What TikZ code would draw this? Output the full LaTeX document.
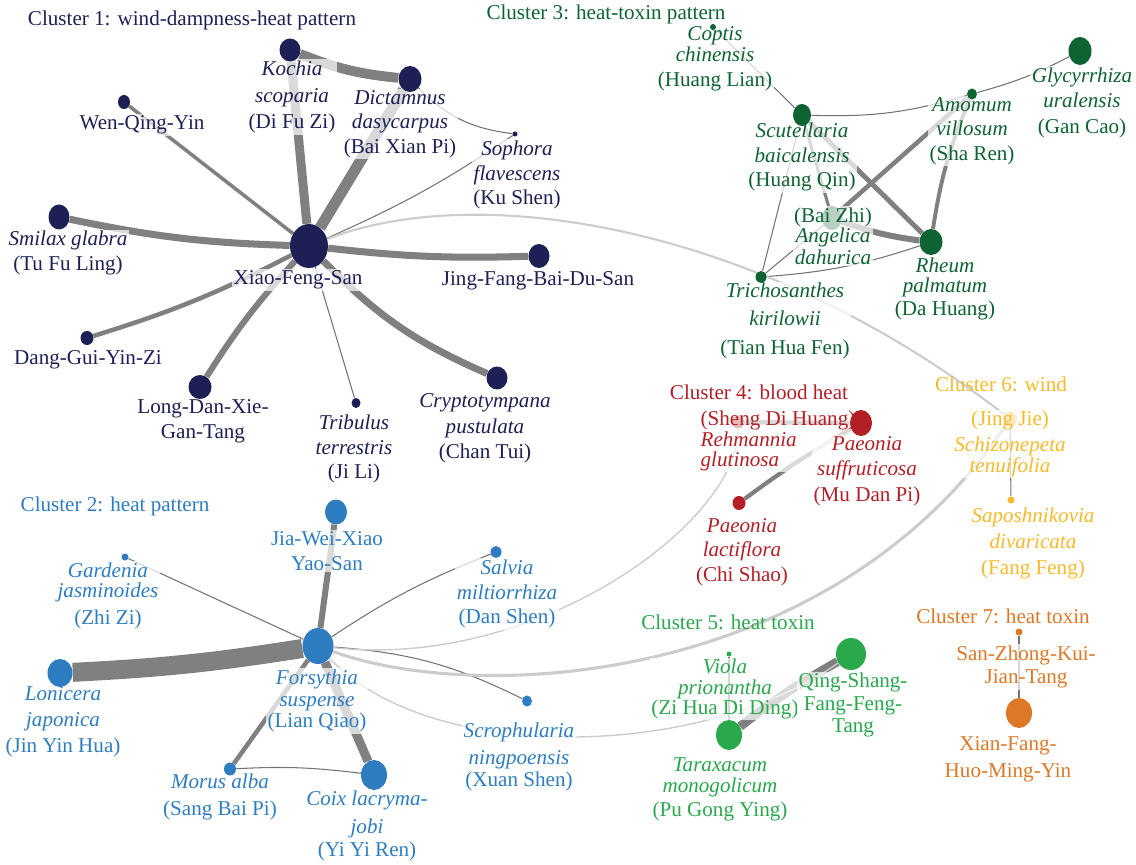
\documentclass[tikz,border=0pt]{standalone}
\usepackage{fontspec}
\setmainfont{Liberation Serif}
\usepackage{xcolor}
\usepackage{tikz}
\usetikzlibrary{shapes.geometric}

\definecolor{cone}{RGB}{30,31,84}
\definecolor{ctwo}{RGB}{46,125,193}
\definecolor{cthree}{RGB}{14,99,51}
\definecolor{cfour}{RGB}{178,32,38}
\definecolor{cfive}{RGB}{41,168,76}
\definecolor{csix}{RGB}{246,186,44}
\definecolor{cseven}{RGB}{222,120,40}
\newcommand{\lblfont}{\fontsize{15}{17.5}\selectfont}
\pgfdeclarelayer{front}
\pgfsetlayers{main,front}

\begin{document}
\begin{tikzpicture}[
  x=0.025cm, y=-0.025cm,
  dot/.style n args={3}{ellipse, fill=#1, inner sep=0pt,
              minimum width=#2*0.025cm, minimum height=#3*0.025cm},
  link/.style={draw=gray, line width=#1},
  thinlink/.style={draw=black!55, line width=0.75pt},
  faint/.style={draw=black!20, line width=#1},
  lbl/.style={text=#1, fill=white, fill opacity=0.7, text opacity=1,
              inner sep=1pt, align=center, font=\lblfont},
  ttl/.style={text=#1, font=\lblfont}
]
\useasboundingbox (0,0) rectangle (1136,865);

% Nodes (name/x/y/width/height)
\begin{pgfonlayer}{front}
\foreach \n/\x/\y/\w/\h in {xfs/309/246/38/44, kochia/290/50/21/23, dict/410/79/23/26,
    sophora/515/134/5/5, wqy/124/102/12/14, smilax/59/217/21/25, jfbds/539/256/21/24,
    dgyz/87/338/13/14, ldxgt/200/387/23/24, tribulus/356/403/9/10, crypto/497/378/21/23}
  \node[dot={cone}{\w}{\h}] (\n) at (\x,\y) {};
\foreach \n/\x/\y/\w/\h in {coptis/713/27/6/6, scut/802/115/18/22, amomum/972/94/10/11,
    glyc/1080/51/23/28, rheum/931/242/23/26, trich/761/277/11/12}
  \node[dot={cthree}{\w}{\h}] (\n) at (\x,\y) {};
\foreach \n/\x/\y/\w/\h in {mdp/861/423/22/26, chishao/739/503/13/14}
  \node[dot={cfour}{\w}{\h}] (\n) at (\x,\y) {};
\node[dot={csix}{7}{7}] (fangfeng) at (1011,500) {};
\foreach \n/\x/\y/\w/\h in {fors/318/646/31/36, jiawei/336/512/22/25, gardenia/125/557/7/7,
    lonicera/60/673/25/28, morus/230/769/12/13, coix/374/775/26/30, salvia/496/552/11/12,
    scroph/527/701/10/11}
  \node[dot={ctwo}{\w}{\h}] (\n) at (\x,\y) {};
\foreach \n/\x/\y/\w/\h in {viola/729/654/5/5, tarax/729/735/26/30, qsfft/851/654/30/32}
  \node[dot={cfive}{\w}{\h}] (\n) at (\x,\y) {};
\foreach \n/\x/\y/\w/\h in {szkjt/1019/632/7/7, xfhmy/1019/713/26/30}
  \node[dot={cseven}{\w}{\h}] (\n) at (\x,\y) {};
\end{pgfonlayer}
% nodes hidden under their labels
\foreach \n/\c/\x/\y/\w/\h in {baizhi/cthree/832/218/20/24, sdh/cfour/738/422/12/13,
    jingjie/csix/1010/419/14/15}
  \node[dot={\c}{\w}{\h}] (\n) at (\x,\y) {};

% Links (source/target/width/bend)
\foreach \s/\t/\w/\b in {kochia/xfs/6.4pt/0, kochia/dict/7pt/-8, dict/xfs/7.8pt/0,
    wqy/xfs/2.5pt/0, smilax/xfs/5pt/-5, xfs/jfbds/5pt/-4, dgyz/xfs/3.2pt/-5,
    ldxgt/xfs/4.3pt/5, xfs/crypto/5pt/-11,
    scut/rheum/3.5pt/0, amomum/baizhi/3.2pt/0, amomum/rheum/2.8pt/-7,
    scut/baizhi/2.2pt/0, baizhi/rheum/4.3pt/-6,
    sdh/mdp/3pt/0, chishao/mdp/3pt/3,
    lonicera/fors/13.5pt/-3, jiawei/fors/4.3pt/0, morus/fors/3.2pt/0, coix/fors/6.4pt/0,
    tarax/qsfft/6.4pt/4}
  \draw[link=\w] (\s) to[bend left=\b] (\t);
\foreach \s/\t/\b in {dict/sophora/-19, sophora/xfs/5, xfs/tribulus/0,
    coptis/scut/0, scut/amomum/-9, amomum/glyc/-6, scut/trich/0, trich/baizhi/0,
    trich/rheum/-7, jingjie/fangfeng/0, gardenia/fors/0, morus/coix/5,
    fors/salvia/6, fors/scroph/11, viola/tarax/0, szkjt/xfhmy/0}
  \draw[thinlink] (\s) to[bend left=\b] (\t);

% Links between clusters
\draw[faint=1.5pt] (xfs) .. controls (480,180) and (760,225) .. (jingjie);
\draw[faint=2.2pt] (fors) .. controls (480,705) and (830,685) .. (jingjie);
\draw[faint=1pt] (fors) .. controls (540,670) and (740,520) .. (sdh);
\draw[faint=1pt] (fors) .. controls (430,765) and (700,760) .. (qsfft);

% Cluster 1
\node[ttl=cone] (c1) at (192,20) {Cluster 1: wind-dampness-heat pattern};
\node[lbl=cone] (xfs-l) at (298,280) {Xiao-Feng-San};
\node[lbl=cone] (kochia-l) at (292,97) {\textit{Kochia}\\[1.5pt]\textit{scoparia}\\[1.5pt](Di Fu Zi)};
\node[lbl=cone] (dict-l) at (400,124) {\textit{Dictamnus}\\\textit{dasycarpus}\\(Bai Xian Pi)};
\node[lbl=cone] (sophora-l) at (517,175) {\textit{Sophora}\\\textit{flavescens}\\(Ku Shen)};
\node[lbl=cone] (wqy-l) at (142,125) {Wen-Qing-Yin};
\node[lbl=cone] (smilax-l) at (68,253) {\textit{Smilax glabra}\\(Tu Fu Ling)};
\node[lbl=cone] (jfbds-l) at (538,281) {Jing-Fang-Bai-Du-San};
\node[lbl=cone] (dgyz-l) at (88,360) {Dang-Gui-Yin-Zi};
\node[lbl=cone] (ldxgt-l) at (203,421) {Long-Dan-Xie-\\Gan-Tang};
\node[lbl=cone] (tribulus-l) at (354,449) {\textit{Tribulus}\\\textit{terrestris}\\(Ji Li)};
\node[lbl=cone] (crypto-l) at (485,428) {\textit{Cryptotympana}\\[1pt]\textit{pustulata}\\(Chan Tui)};

% Cluster 3
\node[ttl=cthree] (c3) at (606,14) {Cluster 3: heat-toxin pattern};
\node[lbl=cthree] (coptis-l) at (715,59) {\textit{Coptis}\\[-2.5pt]\textit{chinensis}\\(Huang Lian)};
\node[lbl=cthree] (scut-l) at (802,157) {\textit{Scutellaria}\\\textit{baicalensis}\\(Huang Qin)};
\node[lbl=cthree] (amomum-l) at (972,131) {\textit{Amomum}\\\textit{villosum}\\(Sha Ren)};
\node[lbl=cthree] (glyc-l) at (1082,103) {\textit{Glycyrrhiza}\\\textit{uralensis}\\[1.5pt](Gan Cao)};
\node[lbl=cthree] (baizhi-l) at (833,236) {(Bai Zhi)\\[-3pt]\textit{Angelica}\\[-2pt]\textit{dahurica}};
\node[lbl=cthree] (rheum-l) at (945,289) {\textit{Rheum}\\[-3pt]\textit{palmatum}\\[-1.5pt](Da Huang)};
\node[lbl=cthree] (trich-l) at (785,321) {\textit{Trichosanthes}\\[2pt]\textit{kirilowii}\\[3pt](Tian Hua Fen)};

% Cluster 4
\node[ttl=cfour] (c4) at (759,392) {Cluster 4: blood heat};
\node[lbl=cfour, align=left, anchor=west] (sdh-l) at (699,441) {(Sheng Di Huang)\\[-3pt]\textit{Rehmannia}\\[-3pt]\textit{glutinosa}};
\node[lbl=cfour] (mdp-l) at (867,471) {\textit{Paeonia}\\\textit{suffruticosa}\\[1pt](Mu Dan Pi)};
\node[lbl=cfour] (chishao-l) at (742,552) {\textit{Paeonia}\\\textit{lactiflora}\\(Chi Shao)};

% Cluster 6
\node[ttl=csix] (c6) at (1001,384) {Cluster 6: wind};
\node[lbl=csix] (jingjie-l) at (1010,444) {(Jing Jie)\\[1pt]\textit{Schizonepeta}\\[-3pt]\textit{tenuifolia}};
\node[lbl=csix] (fangfeng-l) at (1033,543) {\textit{Saposhnikovia}\\[1pt]\textit{divaricata}\\[1pt](Fang Feng)};

% Cluster 2
\node[ttl=ctwo] (c2) at (115,506) {Cluster 2: heat pattern};
\node[lbl=ctwo] (jiawei-l) at (327,551) {Jia-Wei-Xiao\\Yao-San};
\node[lbl=ctwo] (gardenia-l) at (108,596) {\textit{Gardenia}\\[-3pt]\textit{jasminoides}\\[2pt](Zhi Zi)};
\node[lbl=ctwo] (lonicera-l) at (63,722) {\textit{Lonicera}\\[1pt]\textit{japonica}\\[1pt](Jin Yin Hua)};
\node[lbl=ctwo] (fors-l) at (317,701) {\textit{Forsythia}\\[-2pt]\textit{suspense}\\[-2pt](Lian Qiao)};
\node[lbl=ctwo] (morus-l) at (220,797) {\textit{Morus alba}\\[2pt](Sang Bai Pi)};
\node[lbl=ctwo] (coix-l) at (367,826) {\textit{Coix lacryma-}\\[2pt]\textit{jobi}\\[-1pt](Yi Yi Ren)};
\node[lbl=ctwo] (salvia-l) at (507,594) {\textit{Salvia}\\\textit{miltiorrhiza}\\(Dan Shen)};
\node[lbl=ctwo] (scroph-l) at (519,757) {\textit{Scrophularia}\\[2pt]\textit{ningpoensis}\\[-2pt](Xuan Shen)};

% Cluster 5
\node[ttl=cfive] (c5) at (728,622) {Cluster 5: heat toxin};
\node[lbl=cfive] (viola-l) at (725,689) {\textit{Viola}\\[-3pt]\textit{prionantha}\\[-3pt](Zi Hua Di Ding)};
\node[lbl=cfive] (tarax-l) at (720,789) {\textit{Taraxacum}\\[-2pt]\textit{monogolicum}\\[-1pt](Pu Gong Ying)};
\node[lbl=cfive] (qsfft-l) at (853,705) {Qing-Shang-\\[-1.5pt]Fang-Feng-\\[-1.5pt]Tang};

% Cluster 7
\node[ttl=cseven] (c7) at (1003,616) {Cluster 7: heat toxin};
\node[lbl=cseven] (szkjt-l) at (1026,667) {San-Zhong-Kui-\\[-1pt]Jian-Tang};
\node[lbl=cseven] (xfhmy-l) at (1008,759) {Xian-Fang-\\[2pt]Huo-Ming-Yin};

\end{tikzpicture}
\end{document}
